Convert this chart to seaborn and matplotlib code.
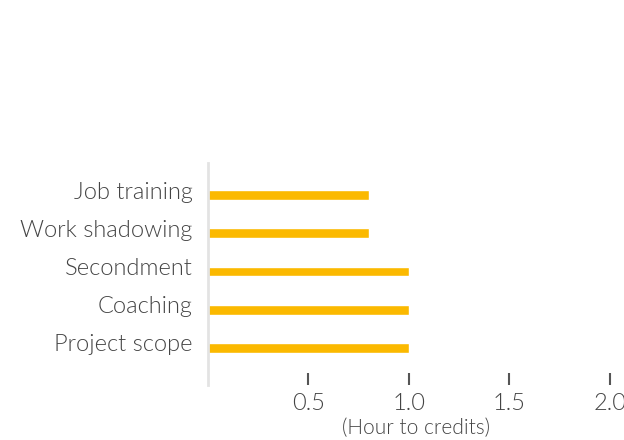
import matplotlib
matplotlib.use("Agg")
import matplotlib.pyplot as plt
import matplotlib.transforms as mtransforms
import seaborn as sns
import pandas as pd

categories = ["Job training", "Work shadowing", "Secondment", "Coaching", "Project scope"]
values = [0.8, 0.8, 1.0, 1.0, 1.0]
xticks = [0.5, 1.0, 1.5, 2.0]
xtick_labels = ["0.5", "1.0", "1.5", "2.0"]
xlabel = "(Hour to credits)"

sns.set_style("white")
plt.rcParams['font.family'] = ['Lato', 'DejaVu Sans']

df = pd.DataFrame({"category": categories, "value": values})

fig = plt.figure(figsize=(6.24, 4.40), dpi=100)
ax = fig.add_axes([208/624, 1-385/440, 1-208/624, (385-163)/440])

sns.barplot(data=df, x="value", y="category", orient="h", color="#FBB900",
            saturation=1, width=0.26, ax=ax)

ax.set_xlim(0, 2.07)
ax.set_ylim(4.97, -0.84)
for s in ["top", "right", "bottom"]:
    ax.spines[s].set_visible(False)
ax.spines["left"].set_color("#e3e3e3")
ax.spines["left"].set_linewidth(2)

txt = "#444444"
ax.set_xticks(xticks)
ax.set_xticklabels(xtick_labels)
ax.tick_params(axis="x", direction="in", length=9, width=1.5, color="#555555",
               labelsize=17, labelcolor=txt, pad=6, bottom=True)
ax.tick_params(axis="y", length=0, labelsize=17, labelcolor=txt, pad=11)
offset = mtransforms.ScaledTranslation(0, 5/100, fig.dpi_scale_trans)
for lbl in ax.get_yticklabels():
    lbl.set_transform(lbl.get_transform() + offset)
for lbl in ax.get_xticklabels() + ax.get_yticklabels():
    lbl.set_fontweight(300)
ax.set_ylabel("")
ax.set_xlabel(xlabel, fontsize=15, color=txt, labelpad=3, fontweight=300)

fig.savefig("out.png", dpi=100)
